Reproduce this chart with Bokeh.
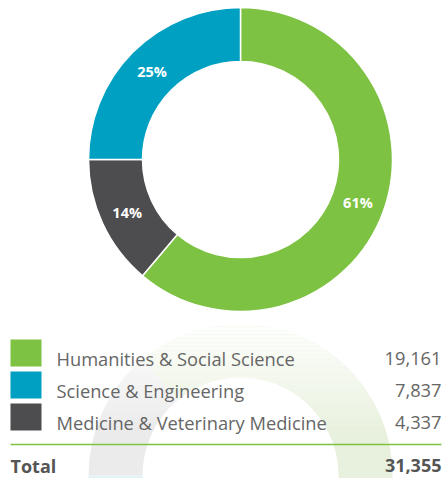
import numpy as np
from bokeh.plotting import figure
from bokeh.models import Range1d, ColumnDataSource
from bokeh.core.properties import value
from bokeh.embed import file_html
from bokeh.resources import INLINE

# ---- data ----
categories = ["Humanities & Social Science", "Science & Engineering", "Medicine & Veterinary Medicine"]
counts = [19161, 7837, 4337]
colors = ["#7DC242", "#00A0C2", "#4D4D4F"]
faint_colors = ["#e8f1dd", "#e4f1f5", "#ebebeb"]
ring_order = [0, 2, 1]          # clockwise from 12 o'clock
total_label = "Total"
total_value = 31355             # as printed in the source

FONT = "Open Sans"
W, H = 447, 478
p = figure(width=W, height=H, x_range=Range1d(0, 447), y_range=Range1d(0, 478),
           output_backend="svg", toolbar_location=None, min_border=0)
p.axis.visible = False
p.grid.visible = False
p.outline_line_color = None
p.background_fill_color = "white"
p.border_fill_color = "white"

def Y(py):
    return 478 - py

total = sum(counts)
cx, cy = 240, Y(159)
r_out, r_in = 152, 98

starts, ends, cols, fcols, mids, labs = [], [], [], [], [], []
cum = 0.0
for i in ring_order:
    frac = counts[i] / total
    a_end = 90 - cum * 360
    a_start = 90 - (cum + frac) * 360
    starts.append(a_start)
    ends.append(a_end)
    cols.append(colors[i])
    fcols.append(faint_colors[i])
    mids.append(np.deg2rad((a_start + a_end) / 2))
    labs.append(f"{round(frac * 100)}%")
    cum += frac

# ---- reflection (faint) ----
ry = Y(475)
p.annular_wedge(x=cx, y=ry, inner_radius=r_in, outer_radius=r_out,
                start_angle=[-e for e in ends], end_angle=[-s for s in starts],
                start_angle_units="deg", end_angle_units="deg",
                fill_color=fcols, line_color=None)
# fade the upper part of reflection
band_tops = np.arange(318, 430, 4)
for k, bt in enumerate(band_tops):
    a = max(0.0, 0.97 * (1 - k / len(band_tops)) ** 0.9)
    p.quad(left=0, right=447, top=Y(bt), bottom=Y(bt + 4), fill_color="white",
           fill_alpha=a, line_color=None)

# ---- donut ----
src = ColumnDataSource(dict(start=starts, end=ends, color=cols))
p.annular_wedge(x=cx, y=cy, inner_radius=r_in, outer_radius=r_out,
                start_angle="start", end_angle="end",
                start_angle_units="deg", end_angle_units="deg",
                fill_color="color", line_color="white", line_width=1.5, source=src)

r_lab = (r_in + r_out) / 2
lx = [cx + r_lab * np.cos(m) for m in mids]
ly = [cy + r_lab * np.sin(m) for m in mids]
p.text(x=lx, y=ly, text=labs, text_color="white", text_font=value(FONT),
       text_font_style="bold", text_font_size="14.5px", text_align="center",
       text_baseline="middle")

# ---- legend table ----
row_pitch = 32
row0 = 352.5
rows_py = [row0 + i * row_pitch for i in range(len(categories))]
p.quad(left=10, right=41, top=[Y(py - 13.5) for py in rows_py],
       bottom=[Y(py + 13.5) for py in rows_py], fill_color=colors, line_color=None)
p.text(x=56, y=[Y(py + 5) for py in rows_py], text=categories,
       text_color="#666666", text_font=value(FONT), text_font_size="18.3px",
       text_baseline="middle", text_align="left")
p.text(x=441, y=[Y(py + 5) for py in rows_py], text=[f"{c:,}" for c in counts],
       text_color="#666666", text_font=value(FONT), text_font_size="18.3px",
       text_baseline="middle", text_align="right")

p.line(x=[10, 441], y=[Y(444), Y(444)], line_color="#7DC242", line_width=1.5)

p.text(x=[10], y=[Y(465)], text=[total_label], text_color="#555555",
       text_font=value(FONT), text_font_style="bold", text_font_size="18px",
       text_baseline="middle", text_align="left")
p.text(x=[441], y=[Y(465)], text=[f"{total_value:,}"], text_color="#555555",
       text_font=value(FONT), text_font_style="bold", text_font_size="18px",
       text_baseline="middle", text_align="right")

open("out.html", "w").write(file_html(p, INLINE))
